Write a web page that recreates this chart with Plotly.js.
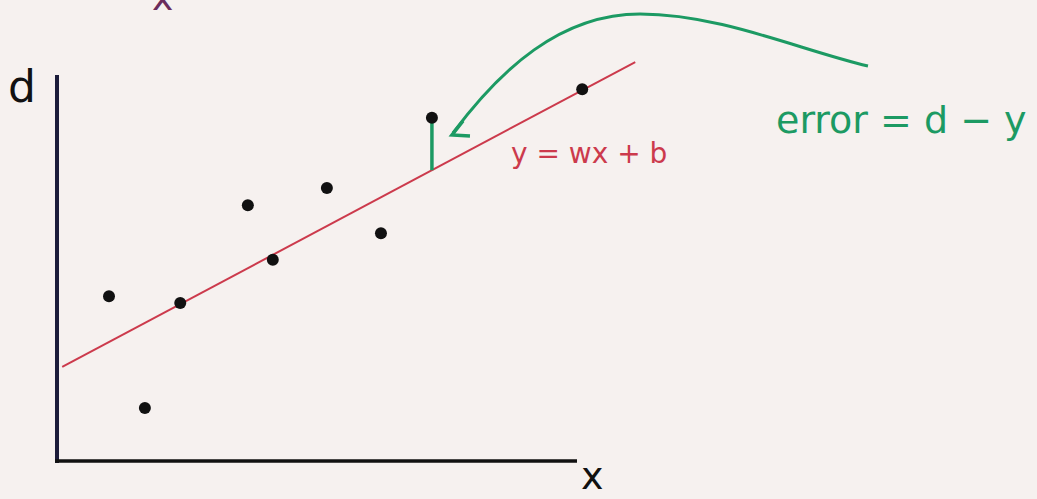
<!DOCTYPE html>
<html>
<head>
<meta charset="utf-8">
<script src="https://cdn.plot.ly/plotly-3.0.1.min.js"></script>
<style>
  html, body { margin: 0; padding: 0; background: #f6f1ef; }
  #chart { width: 1037px; height: 499px; }
</style>
</head>
<body>
<div id="chart"></div>
<script>
// Observations: input x and desired output d
const xValues = [1.00, 1.69, 2.37, 3.67, 4.15, 5.19, 6.23, 7.21, 10.10];
const dValues = [3.17, 1.02, 3.04, 4.92, 3.87, 5.25, 4.38, 6.60, 7.15];

// Fitted line y = w*x + b and the span it is drawn over
const w = 0.532;
const b = 1.757;
const lineX = [0.10, 11.12];

// The observation whose residual is highlighted
const errorIndex = 7;

// Text labels
const labelD = "d";
const labelX = "x";
const labelLine = "y = wx + b";
const labelError = "error = d \u2212 y";

// Page geometry: the axes cross at pixel (57, 461), 52 px per unit
const W = 1037, H = 499;
const ORIGIN_X = 57, ORIGIN_Y = 461, UNIT = 52;
const toX = p => (p - ORIGIN_X) / UNIT;
const toY = p => (ORIGIN_Y - p) / UNIT;

const GREEN = "#1c9a63";
const RED = "#cc3a4c";
const INK = "#111111";

const lineY = lineX.map(x => w * x + b);
const ex = xValues[errorIndex];
const ed = dValues[errorIndex];
const ey = w * ex + b;

const traces = [
  { // fitted line
    x: lineX, y: lineY, mode: "lines", type: "scatter",
    line: { color: RED, width: 2 }, hoverinfo: "skip"
  },
  { // residual between observation and line
    x: [ex, ex], y: [ey, ed], mode: "lines", type: "scatter",
    line: { color: GREEN, width: 3.5 }, hoverinfo: "skip"
  },
  { // observations
    x: xValues, y: dValues, mode: "markers", type: "scatter",
    marker: { color: INK, size: 12 }, hoverinfo: "skip"
  }
];

// Curved arrow from the error label to the residual (pixel points -> data)
function pathFrom(cmds) {
  return cmds.map(c => {
    if (c.length === 1) return c[0];
    let s = c[0];
    for (let i = 1; i < c.length; i += 2) {
      s += " " + toX(c[i]).toFixed(3) + "," + toY(c[i + 1]).toFixed(3);
    }
    return s;
  }).join(" ");
}

const arrowCurve = pathFrom([
  ["M", 868, 66],
  ["C", 800, 50, 720, 14, 640, 14],
  ["C", 560, 14, 500, 70, 453, 133]
]);
const arrowHead = pathFrom([
  ["M", 463, 121],
  ["L", 452, 135],
  ["L", 470, 136]
]);

const shapes = [
  { // vertical axis
    type: "line", xref: "x", yref: "y",
    x0: 0, y0: toY(463), x1: 0, y1: toY(75),
    line: { color: "#1c1c3a", width: 4 }
  },
  { // horizontal axis
    type: "line", xref: "x", yref: "y",
    x0: toX(55), y0: 0, x1: toX(577), y1: 0,
    line: { color: INK, width: 3.5 }
  },
  {
    type: "path", xref: "x", yref: "y", path: arrowCurve,
    line: { color: GREEN, width: 3 }
  },
  {
    type: "path", xref: "x", yref: "y", path: arrowHead,
    line: { color: GREEN, width: 3.5 }
  }
];

const FONT = "DejaVu Sans, Noto Sans, sans-serif";
const base = { xref: "x", yref: "y", showarrow: false, xanchor: "center", yanchor: "middle" };
const annotations = [
  { text: labelD, x: toX(22), y: toY(86), font: { family: FONT, size: 44, color: INK } },
  { text: labelX, x: toX(592), y: toY(499), yanchor: "bottom", borderpad: 0,
    font: { family: FONT, size: 38, color: INK } },
  { text: labelX, xref: "paper", yref: "paper", x: 162 / W, y: 1 + 3 / H,
    font: { family: FONT, size: 36, color: "#6b2d5c" } },
  { text: labelLine, x: toX(589), y: toY(153), font: { family: FONT, size: 28, color: RED } },
  { text: labelError, x: toX(901), y: toY(120), font: { family: FONT, size: 38, color: GREEN } }
].map(a => Object.assign({}, base, a));

const layout = {
  width: W, height: H,
  margin: { l: 0, r: 0, t: 0, b: 0 },
  paper_bgcolor: "#f6f1ef",
  plot_bgcolor: "#f6f1ef",
  showlegend: false,
  xaxis: { range: [toX(0), toX(W)], visible: false, fixedrange: true },
  yaxis: { range: [toY(H), toY(0)], visible: false, fixedrange: true },
  shapes: shapes,
  annotations: annotations
};

Plotly.newPlot("chart", traces, layout, { staticPlot: true, displayModeBar: false });
</script>
</body>
</html>
